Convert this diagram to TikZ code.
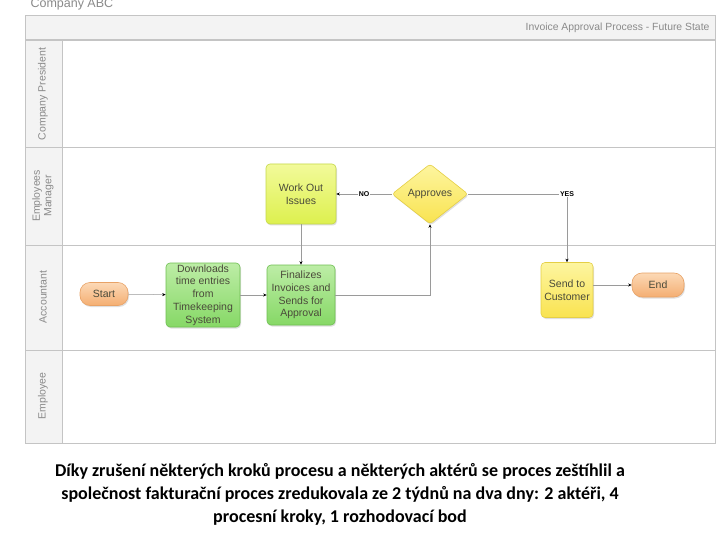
\documentclass[tikz,border=0pt]{standalone}
\usepackage{fontspec}
\setmainfont{Liberation Sans}
\newfontfamily\capfont{Carlito}
\usetikzlibrary{positioning}
\usetikzlibrary{shapes.geometric}
\usetikzlibrary{arrows.meta}
\usetikzlibrary{shadows}

\definecolor{panelgray}{HTML}{F3F3F3}
\definecolor{rulegray}{HTML}{C4C4C4}
\definecolor{lanetext}{HTML}{8A8A8A}
\definecolor{linegray}{HTML}{9A9A9A}
\definecolor{orangetop}{HTML}{FCD9B6}
\definecolor{orangebot}{HTML}{F4AE72}
\definecolor{orangeline}{HTML}{E8A266}
\definecolor{greentop}{HTML}{BDEDA6}
\definecolor{greenbot}{HTML}{86D866}
\definecolor{greenline}{HTML}{6FBF52}
\definecolor{limetop}{HTML}{F2FA9A}
\definecolor{limebot}{HTML}{DDF04E}
\definecolor{limeline}{HTML}{C5D84A}
\definecolor{yellowtop}{HTML}{FDF5A0}
\definecolor{yellowbot}{HTML}{F9E350}
\definecolor{yellowline}{HTML}{E5CF45}
\definecolor{boxtext}{HTML}{4A4A3A}

\tikzset{
  box/.style={draw, rounded corners=4pt, line width=0.6pt, align=center,
    font=\fontsize{10.5}{12.8}\selectfont, text=boxtext, inner sep=0.5pt,
    drop shadow={shadow xshift=1pt, shadow yshift=-1.5pt, opacity=0.25}},
  terminal/.style={box, rounded corners=10pt, draw=orangeline,
    top color=orangetop, bottom color=orangebot},
  greenbox/.style={box, draw=greenline, top color=greentop, bottom color=greenbot},
  limebox/.style={box, draw=limeline, top color=limetop, bottom color=limebot},
  yellowbox/.style={box, draw=yellowline, top color=yellowtop, bottom color=yellowbot},
  decision/.style={box, diamond, rounded corners=3pt, draw=yellowline,
    top color=yellowtop, bottom color=yellowbot, inner sep=0pt},
  flow/.style={draw=linegray, line width=0.5pt,
    -{Stealth[length=3.5pt,width=3pt,black]}},
  flowlabel/.style={fill=white, inner sep=1pt, text=black,
    font=\bfseries\fontsize{7}{8}\selectfont},
  lanelabel/.style={rotate=90, align=center, text=lanetext,
    font=\fontsize{10.5}{11.5}\selectfont}
}

\begin{document}
\begin{tikzpicture}[x=1pt,y=-1pt]
\useasboundingbox (0,0) rectangle (720,540);
\fill[white] (0,0) rectangle (720,540);

% frame and lanes
{
\fill[panelgray] (25,15) rectangle (715,443);
\draw[rulegray, line width=0.4pt] (25,15) rectangle (715,443);
\fill[white] (62,40) rectangle (715,443);
\draw[rulegray, line width=1.4pt] (25,40)--(715,40);
\draw[rulegray, line width=0.6pt] (62,40)--(62,443);
\draw[rulegray, line width=1pt] (25,148)--(715,148);
\draw[rulegray, line width=1pt] (25,245)--(715,245);
\draw[rulegray, line width=1pt] (25,350)--(715,350);
\draw[rulegray, line width=1pt] (25,443)--(715,443);
}

% header texts
\node[anchor=base west, text=lanetext, font=\fontsize{12.5}{13}\selectfont] (company) at (27,8) {Company ABC};
\node[anchor=east, text=lanetext, font=\fontsize{10.4}{11}\selectfont] (title) at (713,28) {Invoice Approval Process - Future State};

% lane labels
\node[lanelabel] (lanepres) at (43,94) {Company President};
\node[lanelabel] (lanemgr) at (43,196) {Employees\\Manager};
\node[lanelabel] (laneacc) at (43,297) {Accountant};
\node[lanelabel] (laneemp) at (43,396) {Employee};

% nodes
\node[terminal, minimum width=48, minimum height=23] (start) at (104,294) {Start};
\node[greenbox, minimum width=74, minimum height=64] (download) at (203,295) {Downloads\\time entries\\from\\Timekeeping\\System};
\node[greenbox, minimum width=68, minimum height=60] (final) at (301,295) {Finalizes\\Invoices and\\Sends for\\Approval};
\node[limebox, minimum width=70, minimum height=60] (workout) at (301,194) {Work Out\\Issues};
\node[decision, minimum width=76, minimum height=60] (approve) at (430,194) {Approves};
\node[yellowbox, minimum width=52, minimum height=55] (send) at (567,290) {Send to\\Customer};
\node[terminal, minimum width=52, minimum height=24] (finish) at (658,285) {End};

% connectors
\draw[flow] (start) -- (download);
\draw[flow] (download) -- (final);
\draw[flow] (final.east) -| (approve.south);
\draw[flow] (approve.west) -- node[flowlabel] {NO} (workout.east);
\draw[flow] (workout.south) -- (final.north);
\draw[flow] (approve.east) -| node[flowlabel, pos=0.5] {YES} (send.north);
\draw[flow] (send.east |- finish.west) -- (finish.west);

% caption
\node[align=center, font=\capfont\bfseries\fontsize{18}{23}\selectfont] (caption) at (340,494)
{Díky zrušení některých kroků procesu a některých aktérů se proces zeštíhlil a\\
společnost fakturační proces zredukovala ze 2 týdnů na dva dny: 2 aktéři, 4\\
procesní kroky, 1 rozhodovací bod};

\end{tikzpicture}
\end{document}
